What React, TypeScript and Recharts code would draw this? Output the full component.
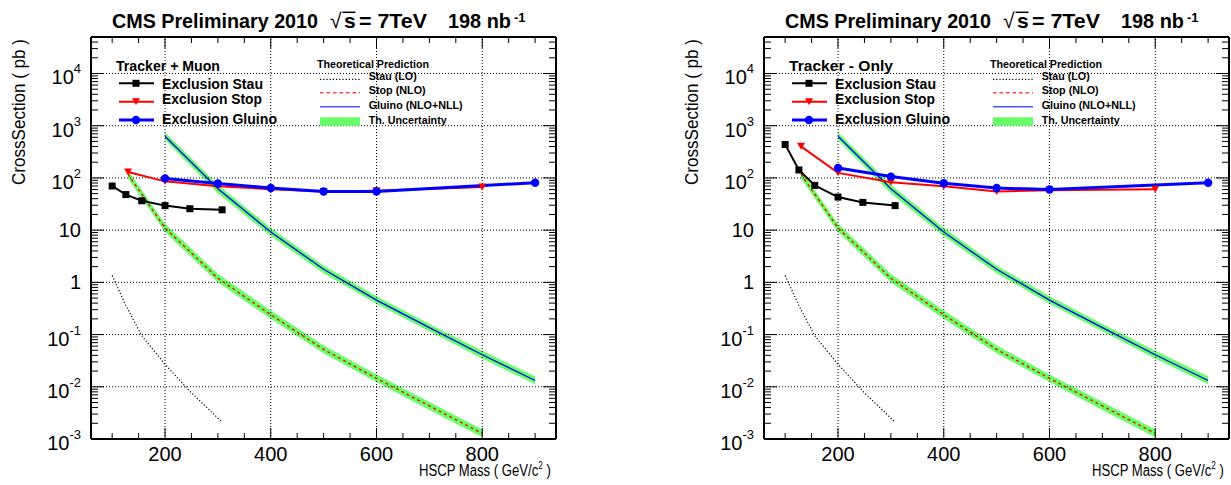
import React from 'react';
import { ComposedChart, Line, Area, XAxis, YAxis, ReferenceLine } from 'recharts';

const FONT = '"Liberation Sans", Arial, Helvetica, sans-serif';

// ---------- masses (GeV/c^2) ----------
const stauMass = [100, 126, 156, 200, 247, 308];
const stopMass = [130, 200, 300, 400, 500, 600, 700, 800];
const gluinoMass = [200, 300, 400, 500, 600, 700, 800, 900];
const stopExclMass = [130, 200, 300, 400, 500, 600, 800];
const gluinoExclMass = [200, 300, 400, 500, 600, 900];

// ---------- theoretical predictions (pb) ----------
const stauTheory = [1.35, 0.36, 0.095, 0.027, 0.0082, 0.0021];
const stopTheory = [118, 11, 1.2, 0.24, 0.052, 0.0145, 0.0043, 0.00128];
const stopBandLow = [97, 9.2, 1.0, 0.2, 0.044, 0.0123, 0.0036, 0.00108];
const stopBandHigh = [140, 13.2, 1.45, 0.29, 0.062, 0.0172, 0.0051, 0.00152];
const gluinoTheory = [630, 62, 9.2, 1.78, 0.457, 0.136, 0.041, 0.0132];
const gluinoBandLow = [530, 51, 7.7, 1.5, 0.39, 0.116, 0.035, 0.0112];
const gluinoBandHigh = [750, 74, 11, 2.1, 0.54, 0.16, 0.049, 0.0157];

// ---------- exclusion limits: Tracker + Muon ----------
const tmStau = [70, 48, 36.5, 29.5, 25.7, 24.5];
const tmStop = [130, 86, 69, 61, 55, 57, 67];
const tmGluino = [98, 78, 64, 55, 55, 81];

// ---------- exclusion limits: Tracker - Only ----------
const toStau = [436, 142, 72, 43, 34, 29.5];
const toStop = [403, 125, 83, 69, 55, 58, 61];
const toGluino = [155, 106, 79, 64, 60, 81];

// ---------- axes ----------
const xDomain = [60, 939.5];
const xTicks = [100, 150, 200, 250, 300, 350, 400, 450, 500, 550, 600, 650, 700, 750, 800, 850, 900];
const xMajor = [200, 400, 600, 800];
const yDomain = [0.001, 50000];
const yDecades = [0.001, 0.01, 0.1, 1, 10, 100, 1000, 10000];
const yMinorFactors = [2, 3, 4, 5, 6, 7, 8, 9];
const yTicks = yDecades
  .flatMap((d) => [d, ...yMinorFactors.map((f) => d * f)])
  .filter((v) => v <= yDomain[1] * 1.0000001);

const isMajorY = (v: number) => yDecades.some((d) => Math.abs(v / d - 1) < 1e-9);

type Series = { key: string; xs: number[]; ys: any[] };

function buildRows(series: Series[]) {
  const map = new Map<number, any>();
  series.forEach((s) => {
    s.xs.forEach((x, i) => {
      const r = map.get(x) ?? { m: x };
      r[s.key] = s.ys[i];
      map.set(x, r);
    });
  });
  return Array.from(map.values()).sort((a, b) => a.m - b.m);
}

// ---------- tick renderers ----------
const BottomTick = (p: any) => {
  const { x, y, payload } = p;
  const v = payload.value;
  const major = xMajor.includes(v);
  return (
    <g>
      <line x1={x} x2={x} y1={y} y2={y - (major ? 11 : 6)} stroke="#000" strokeWidth={1} />
      {major && (
        <text x={x} y={y + 21.5} textAnchor="middle" fontSize={20} fontFamily={FONT} fill="#000">
          {v}
        </text>
      )}
    </g>
  );
};

const TopTick = (p: any) => {
  const { x, y, payload } = p;
  const major = xMajor.includes(payload.value);
  return <line x1={x} x2={x} y1={y} y2={y + (major ? 11 : 6)} stroke="#000" strokeWidth={1} />;
};

const LeftTick = (p: any) => {
  const { x, y, payload } = p;
  const v = payload.value;
  const major = isMajorY(v);
  let label: React.ReactNode = null;
  if (major) {
    const k = Math.round(Math.log10(v));
    if (k === 0 || k === 1) {
      label = (
        <text x={x - 10} y={y + 7} textAnchor="end" fontSize={20} fontFamily={FONT} fill="#000">
          {k === 0 ? '1' : '10'}
        </text>
      );
    } else {
      label = (
        <text x={x - 10} y={y + 11} textAnchor="end" fontSize={20} fontFamily={FONT} fill="#000">
          <tspan>10</tspan>
          <tspan fontSize={13} dy={-11}>{String(k)}</tspan>
        </text>
      );
    }
  }
  return (
    <g>
      <line x1={x} x2={x + (major ? 13 : 7)} y1={y} y2={y} stroke="#000" strokeWidth={1} />
      {label}
    </g>
  );
};

const RightTick = (p: any) => {
  const { x, y, payload } = p;
  const major = isMajorY(payload.value);
  return <line x1={x} x2={x - (major ? 13 : 7)} y1={y} y2={y} stroke="#000" strokeWidth={1} />;
};

// ---------- markers ----------
const SquareDot = (p: any) => {
  if (p.cx == null || p.cy == null) return <g key={`s${p.index}`} />;
  return <rect key={`s${p.index}`} x={p.cx - 3.5} y={p.cy - 3.5} width={7} height={7} fill="#000" />;
};
const TriDot = (p: any) => {
  if (p.cx == null || p.cy == null) return <g key={`t${p.index}`} />;
  const { cx, cy } = p;
  return (
    <polygon
      key={`t${p.index}`}
      points={`${cx - 4},${cy - 3.5} ${cx + 4},${cy - 3.5} ${cx},${cy + 3.5}`}
      fill="#ff0000"
    />
  );
};
const CircleDot = (p: any) => {
  if (p.cx == null || p.cy == null) return <g key={`c${p.index}`} />;
  return <circle key={`c${p.index}`} cx={p.cx} cy={p.cy} r={4.2} fill="#0000ff" />;
};

const W = 558;
const H = 485;

function Overlay({ header }: { header: string }) {
  const sq = { lengthAdjust: 'spacingAndGlyphs' as const };
  return (
    <svg
      width={W}
      height={H}
      style={{ position: 'absolute', left: 0, top: 0, pointerEvents: 'none', overflow: 'visible' }}
      fontFamily={FONT}
    >
      {/* title */}
      <text x={112} y={28} fontSize={21} fontWeight="bold" textLength={206} {...sq}>
        CMS Preliminary 2010
      </text>
      <text x={330} y={28} fontSize={21}>
        √
      </text>
      <line x1={342.5} x2={355.5} y1={12.3} y2={12.3} stroke="#000" strokeWidth={1.5} />
      <text x={344} y={28} fontSize={21} fontWeight="bold">
        s
      </text>
      <text x={359} y={28} fontSize={21} fontWeight="bold" textLength={68} {...sq}>
        = 7TeV
      </text>
      <text x={448} y={28} fontSize={21} fontWeight="bold" textLength={63} {...sq}>
        198 nb
      </text>
      <text x={514} y={21.5} fontSize={13} fontWeight="bold">
        -1
      </text>

      {/* y axis title */}
      <text transform="translate(25,185) rotate(-90)" fontSize={18} textLength={146} {...sq}>
        CrossSection ( pb )
      </text>

      {/* x axis title */}
      <text transform="translate(419,476) scale(0.82,1)" fontSize={16}>
        <tspan>HSCP Mass ( GeV/c</tspan>
        <tspan fontSize={10} dy={-7}>
          2
        </tspan>
        <tspan dy={7}> )</tspan>
      </text>

      {/* exclusion legend */}
      <text x={116} y={71} fontSize={14} fontWeight="bold" textLength={104} {...sq}>
        {header}
      </text>
      <line x1={119} x2={154} y1={83.3} y2={83.3} stroke="#000" strokeWidth={2} />
      <rect x={132.5} y={79.8} width={7} height={7} fill="#000" />
      <text x={162} y={89.3} fontSize={14} fontWeight="bold" textLength={101} {...sq}>
        Exclusion Stau
      </text>
      <line x1={119} x2={154} y1={101.7} y2={101.7} stroke="#ff0000" strokeWidth={2} />
      <polygon points="132,98.2 140,98.2 136,105.2" fill="#ff0000" />
      <text x={162} y={104.3} fontSize={14} fontWeight="bold" textLength={100} {...sq}>
        Exclusion Stop
      </text>
      <line x1={119} x2={154} y1={120} y2={120} stroke="#0000ff" strokeWidth={3} />
      <circle cx={136} cy={120} r={4.2} fill="#0000ff" />
      <text x={162} y={124.3} fontSize={14} fontWeight="bold" textLength={115} {...sq}>
        Exclusion Gluino
      </text>

      {/* theory legend */}
      <text x={317} y={68.3} fontSize={10.7} fontWeight="bold" textLength={112} {...sq}>
        Theoretical Prediction
      </text>
      <line x1={320} x2={360} y1={79.3} y2={79.3} stroke="#000" strokeWidth={1.2} strokeDasharray="1.2 2" />
      <text x={368.7} y={80.3} fontSize={10.5} fontWeight="bold" textLength={48} {...sq}>
        Stau (LO)
      </text>
      <line x1={320} x2={360} y1={92.7} y2={92.7} stroke="#ff4444" strokeWidth={1.5} strokeDasharray="3.5 3" />
      <text x={368.7} y={94.3} fontSize={10.5} fontWeight="bold" textLength={57} {...sq}>
        Stop (NLO)
      </text>
      <line x1={320} x2={360} y1={106.7} y2={106.7} stroke="#4455ff" strokeWidth={1.5} />
      <text x={368.7} y={108.5} fontSize={10.5} fontWeight="bold" textLength={94} {...sq}>
        Gluino (NLO+NLL)
      </text>
      <rect x={320} y={117.3} width={40} height={8.4} fill="#66ff66" />
      <text x={368.7} y={123.5} fontSize={10.5} fontWeight="bold" textLength={78} {...sq}>
        Th. Uncertainty
      </text>
    </svg>
  );
}

function Panel({
  left,
  header,
  stau,
  stop,
  gluino,
}: {
  left: number;
  header: string;
  stau: number[];
  stop: number[];
  gluino: number[];
}) {
  const rows = buildRows([
    { key: 'stauTh', xs: stauMass, ys: stauTheory },
    { key: 'stopTh', xs: stopMass, ys: stopTheory },
    { key: 'stopBand', xs: stopMass, ys: stopBandLow.map((l, i) => [l, stopBandHigh[i]]) },
    { key: 'gluTh', xs: gluinoMass, ys: gluinoTheory },
    { key: 'gluBand', xs: gluinoMass, ys: gluinoBandLow.map((l, i) => [l, gluinoBandHigh[i]]) },
    { key: 'stauEx', xs: stauMass, ys: stau },
    { key: 'stopEx', xs: stopExclMass, ys: stop },
    { key: 'gluEx', xs: gluinoExclMass, ys: gluino },
  ]);

  const axisLine = { stroke: '#000', strokeWidth: 2 };

  return (
    <div style={{ position: 'absolute', left, top: 0, width: W, height: H }}>
      <ComposedChart width={W} height={H} data={rows} margin={{ top: 0, right: 0, bottom: 0, left: 0 }}>
        <XAxis
          xAxisId="b"
          dataKey="m"
          type="number"
          domain={xDomain}
          allowDataOverflow
          ticks={xTicks}
          interval={0}
          height={46}
          tickSize={0}
          tickMargin={0}
          tickLine={false}
          axisLine={axisLine}
          tick={BottomTick}
        />
        <XAxis
          xAxisId="t"
          orientation="top"
          dataKey="m"
          type="number"
          domain={xDomain}
          allowDataOverflow
          ticks={xTicks}
          interval={0}
          height={37}
          tickSize={0}
          tickMargin={0}
          tickLine={false}
          axisLine={axisLine}
          tick={TopTick}
        />
        <YAxis
          yAxisId="l"
          type="number"
          scale="log"
          domain={yDomain}
          allowDataOverflow
          ticks={yTicks}
          interval={0}
          width={91}
          tickSize={0}
          tickMargin={0}
          tickLine={false}
          axisLine={axisLine}
          tick={LeftTick}
        />
        <YAxis
          yAxisId="r"
          orientation="right"
          type="number"
          scale="log"
          domain={yDomain}
          allowDataOverflow
          ticks={yTicks}
          interval={0}
          width={2}
          tickSize={0}
          tickMargin={0}
          tickLine={false}
          axisLine={axisLine}
          tick={RightTick}
        />

        {xMajor.map((v) => (
          <ReferenceLine
            key={`gx${v}`}
            xAxisId="b"
            yAxisId="l"
            x={v}
            stroke="#000"
            strokeWidth={1}
            strokeDasharray="1 2"
          />
        ))}
        {yDecades.slice(1).map((v) => (
          <ReferenceLine
            key={`gy${v}`}
            xAxisId="b"
            yAxisId="l"
            y={v}
            stroke="#000"
            strokeWidth={1}
            strokeDasharray="1 2"
          />
        ))}

        <Area
          xAxisId="b"
          yAxisId="l"
          dataKey="stopBand"
          type="linear"
          fill="#66ff66"
          fillOpacity={1}
          stroke="none"
          connectNulls
          dot={false}
          activeDot={false}
          isAnimationActive={false}
        />
        <Area
          xAxisId="b"
          yAxisId="l"
          dataKey="gluBand"
          type="linear"
          fill="#66ff66"
          fillOpacity={1}
          stroke="none"
          connectNulls
          dot={false}
          activeDot={false}
          isAnimationActive={false}
        />
        <Line
          xAxisId="b"
          yAxisId="l"
          dataKey="stauTh"
          type="linear"
          stroke="#000"
          strokeWidth={1.2}
          strokeDasharray="1.2 2"
          connectNulls
          dot={false}
          activeDot={false}
          isAnimationActive={false}
        />
        <Line
          xAxisId="b"
          yAxisId="l"
          dataKey="stopTh"
          type="linear"
          stroke="#ff0000"
          strokeWidth={1.3}
          strokeDasharray="3 3"
          connectNulls
          dot={false}
          activeDot={false}
          isAnimationActive={false}
        />
        <Line
          xAxisId="b"
          yAxisId="l"
          dataKey="gluTh"
          type="linear"
          stroke="#0000ff"
          strokeWidth={1.3}
          connectNulls
          dot={false}
          activeDot={false}
          isAnimationActive={false}
        />
        <Line
          xAxisId="b"
          yAxisId="l"
          dataKey="stauEx"
          type="linear"
          stroke="#000"
          strokeWidth={2}
          connectNulls
          dot={SquareDot}
          activeDot={false}
          isAnimationActive={false}
        />
        <Line
          xAxisId="b"
          yAxisId="l"
          dataKey="stopEx"
          type="linear"
          stroke="#ff0000"
          strokeWidth={2}
          connectNulls
          dot={TriDot}
          activeDot={false}
          isAnimationActive={false}
        />
        <Line
          xAxisId="b"
          yAxisId="l"
          dataKey="gluEx"
          type="linear"
          stroke="#0000ff"
          strokeWidth={3}
          connectNulls
          dot={CircleDot}
          activeDot={false}
          isAnimationActive={false}
        />
      </ComposedChart>
      <Overlay header={header} />
    </div>
  );
}

export default function App() {
  return (
    <div
      style={{
        position: 'absolute',
        left: 0,
        top: 0,
        width: 1231,
        height: 485,
        overflow: 'hidden',
        background: '#fff',
      }}
    >
      <Panel left={0} header="Tracker + Muon" stau={tmStau} stop={tmStop} gluino={tmGluino} />
      <Panel left={673} header="Tracker - Only" stau={toStau} stop={toStop} gluino={toGluino} />
    </div>
  );
}
